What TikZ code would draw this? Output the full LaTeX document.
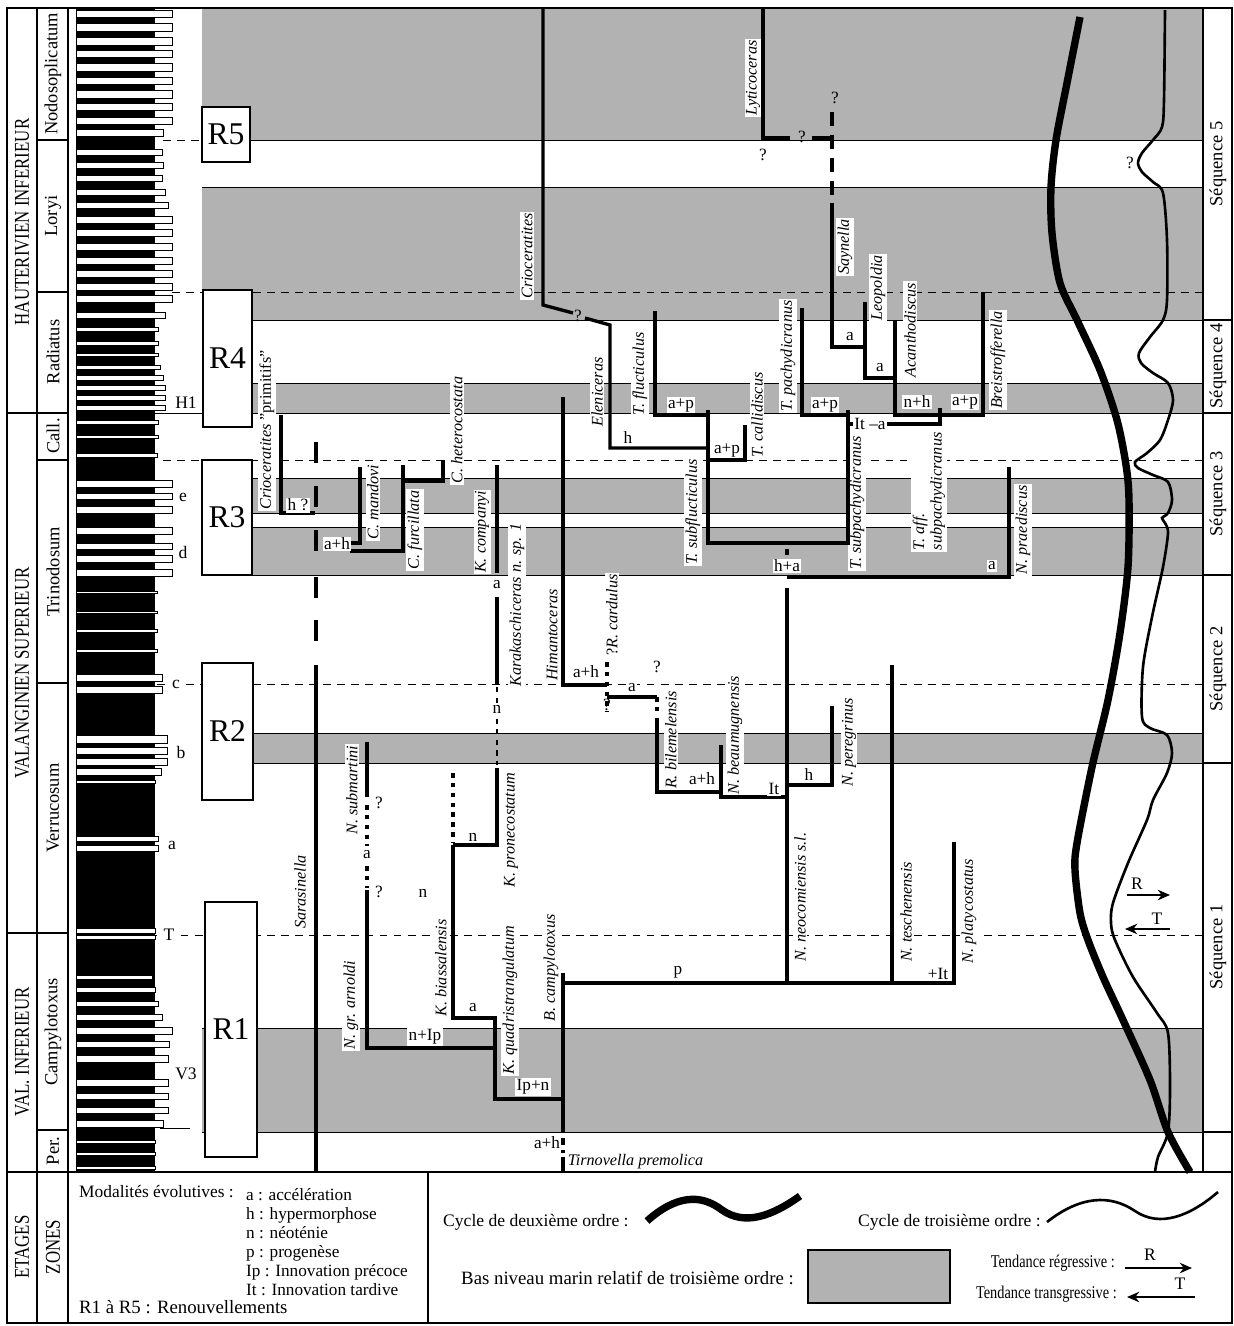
\documentclass[tikz,border=0pt]{standalone}
\usepackage{fontspec}
\setmainfont{Liberation Serif}
\usetikzlibrary{arrows.meta}

\tikzset{
  lin/.style={line width=1.9pt},
  frm/.style={line width=0.9pt},
  dsh/.style={line width=0.5pt, dash pattern=on 4.5pt off 3.5pt},
  dotlin/.style={line width=1.9pt, dash pattern=on 2.6pt off 3pt},
  sp/.style={rotate=90, fill=white, inner sep=0.8pt, font=\fontsize{9.2}{10}\selectfont\itshape},
  md/.style={fill=white, inner sep=0.8pt, font=\fontsize{9.8}{11}\selectfont},
  zn/.style={rotate=90, font=\fontsize{10.5}{12}\selectfont},
  et/.style={rotate=90, font=\fontsize{12}{13}\selectfont},
  lg/.style={anchor=west, font=\fontsize{10.7}{12}\selectfont},
  lgs/.style={anchor=west, font=\fontsize{10}{12}\selectfont},
  lgt/.style={anchor=east, font=\fontsize{10.2}{12}\selectfont},
}

\begin{document}
\begin{tikzpicture}[x=0.02cm,y=-0.02cm]
\useasboundingbox (0,0) rectangle (1234,1326);

% gray bands (bas niveau marin)
\foreach \a/\b in {8/140,187/320,383/413,478/513,527/575,733/763,1028/1132}
{
	\fill[black!30] (202,\a) rectangle (1203,\b);
	\draw[line width=0.5pt] (202,\a) -- (1203,\a);
	\draw[line width=0.5pt] (202,\b) -- (1203,\b);
}

% log column
\fill (76,8) rectangle (155,1172);
\foreach \y/\h/\r in {10/7/172,23/8/172,37/8/172,50/7/172,63/8/172,77/7/172,90/8/172,103/7/172,117/7/172,129/7/163,
	149/6/162,162/6/163,175/6/162,189/6/165,202/6/168,216/7/172,229/7/172,243/7/172,257/7/172,270/7/172,283/7/172,
	295/7/172,312/6/165,327/4/158,341/4/158,353/3/158,365/4/160,375/5/163,385/5/165,395/5/165,405/5/165,
	420/4/158,435/3/158,453/4/157,
	480/7/172,493/6/172,506/7/172,527/7/172,543/6/172,555/7/172,569/7/172,591/2/157,611/2/157,629/3/157,649/3/157,674/7/162,
	686/7/162,735/8/167,747/7/167,758/7/167,768/7/161,780/3/155,836/5/158,845/6/158,928/5/155,935/4/155,
	975/4/152,987/5/155,1001/5/158,1014/6/162,1027/7/172,1041/6/169,1055/7/168,1079/7/168,1093/6/168,1107/6/168,1120/7/163,
	1140/3/155,1152/3/155,1166/3/155}
{
	\filldraw[fill=white, line width=0.4pt] (76,\y) rectangle (\r,\y+\h);
}

% frame and columns
\draw[frm] (7,8) rectangle (1232,1323);
\draw[frm] (37,8) -- (37,1323);
\draw[frm] (68,8) -- (68,1323);
\draw[frm] (428,1172) -- (428,1323);
\draw[frm] (1203,8) -- (1203,1172);
\draw[frm] (7,1172) -- (1232,1172);
\foreach \y in {140,292,460,683,1130}
{
	\draw[frm] (37,\y) -- (68,\y);
}
\foreach \y in {413,933}
{
	\draw[frm] (7,\y) -- (68,\y);
}
\foreach \y in {320,413,575,763,1132}
{
	\draw[frm] (1203,\y) -- (1232,\y);
}

% stage and zone names
\node[et] (hau) at (22,222) {\scalebox{0.8}[1]{HAUTERIVIEN INFERIEUR}};
\node[et] (vsu) at (22,673) {\scalebox{0.8}[1]{VALANGINIEN SUPERIEUR}};
\node[et] (vin) at (22,1052) {\scalebox{0.8}[1]{VAL. INFERIEUR}};
\foreach \n/\t/\y in {z1/Nodosoplicatum/74,z2/Loryi/216,z3/Radiatus/352,z4/Call./436,z5/Trinodosum/572,z6/Verrucosum/808,z7/Campylotoxus/1032,z8/Per./1151}
{
	\node[zn] (\n) at (53,\y) {\t};
}

% marker beds of the log
\foreach \n/\t/\x/\y in {mh/H1/186/403,me/e/183/497,md/d/183/552,mb/b/181/752,ma/a/172/845,mv/V3/186/1074}
{
	\node[font=\fontsize{10}{12}\selectfont] (\n) at (\x,\y) {\t};
}
\node[font=\fontsize{10}{12}\selectfont] (mc) at (176,684) {c};
\node[font=\fontsize{10}{12}\selectfont] (mt) at (169,935) {T};

% correlation lines
\draw[dsh] (163,140) -- (202,140);
\draw[dsh] (172,292) -- (203,292);
\draw[dsh] (163,460) -- (202,460);
\draw[dsh] (157,684) -- (mc.west);
\draw[dsh] (mc.east) -- (202,684);
\draw[dsh] (155,935) -- (mt.west);
\draw[dsh] (mt.east) -- (205,935);
\draw[line width=0.5pt] (155,413) -- (203,413);
\draw[line width=0.5pt] (160,1128) -- (190,1128);
\foreach \y in {292,460,684,935}
{
	\draw[dsh] (253,\y) -- (1203,\y);
}

% renouvellements
\foreach \n/\a/\b/\c/\d in {R5/202/107/250/162,R4/203/290/252/427,R3/202/460/252/575,R2/202/663/253/800,R1/205/902/257/1157}
{
	\draw[frm, fill=white] (\a,\b) rectangle (\c,\d) node[midway, font=\fontsize{18}{20}\selectfont] (\n) {\n};
}

% sequences
\foreach \n/\y in {5/164,4/366,3/494,2/669,1/947}
{
	\node[rotate=90, font=\fontsize{10.5}{12}\selectfont] (seq\n) at (1218,\y) {Séquence \n};
}

% taxa names
\node[sp] (cri) at (527,256) {Crioceratites};
\node[sp] (lyt) at (753,78) {Lyticoceras};
\node[sp] (say) at (845,247) {Saynella};
\node[sp] (leo) at (878,288) {Leopoldia};
\node[sp] (aca) at (910,330) {Acanthodiscus};
\node[sp] (bre) at (998,360) {Breistrofferella};
\node[sp] (tpa) at (788,356) {T. pachydicranus};
\node[sp] (tca) at (757,415) {T. callidiscus};
\node[sp] (ele) at (597,392) {Eleniceras};
\node[sp] (tfl) at (640,374) {T. flucticulus};
\node[sp] (tsf) at (693,512) {T. subflucticulus};
\node[sp] (tsp) at (857,503) {T. subpachydicranus};
\node[sp, anchor=west, align=left] (taf) at (929,552) {T. aff.\\subpachydicranus};
\node[sp] (npr) at (1023,530) {N. praediscus};
\node[sp] (crp) at (267,430) {Crioceratites \upshape"primitifs"};
\node[sp] (cma) at (373,502) {C. mandovi};
\node[sp] (cfu) at (415,530) {C. furcillata};
\node[sp] (che) at (457,430) {C. heterocostata};
\node[sp] (kco) at (482,532) {K. companyi};
\node[sp] (kar) at (517,605) {Karakaschiceras n. sp. 1};
\node[sp] (him) at (552,635) {Himantoceras};
\node[sp] (rca) at (612,615) {\upshape?\itshape R. cardulus};
\node[sp] (rbi) at (671,740) {R. bilemelensis};
\node[sp] (nbe) at (735,735) {N. beaumugnensis};
\node[sp] (npe) at (849,742) {N. peregrinus};
\node[sp] (nsu) at (352,790) {N. submartini};
\node[sp] (kpr) at (511,830) {K. pronecostatum};
\node[sp] (sar) at (300,892) {Sarasinella};
\node[sp] (nar) at (351,1005) {N. gr. arnoldi};
\node[sp] (kbi) at (441,968) {K. biassalensis};
\node[sp] (kqu) at (510,1000) {K. quadristrangulatum};
\node[sp] (bca) at (551,968) {B. campylotoxus};
\node[sp] (nne) at (800,897) {N. neocomiensis s.l.};
\node[sp] (nte) at (906,912) {N. teschenensis};
\node[sp] (npl) at (969,911) {N. platycostatus};
\node[sp, rotate=-90, anchor=west] (tir) at (566,1162) {Tirnovella premolica};

% lineages, Hauterivien
\draw[lin] (543,8) -- (543,305) -- (573,313);
\draw[lin] (585,318) -- (610,325) -- (610,448) -- (708,448);
\draw[lin] (655,311) -- (655,415) -- (708,415);
\draw[lin] (708,410) -- (708,543) -- (848,543) -- (848,410);
\draw[lin] (708,460) -- (745,460) -- (745,425);
\draw[lin] (802,308) -- (802,415) -- (848,415);
\draw[lin] (848,424) -- (940,424) -- (940,408);
\draw[lin] (895,320) -- (895,415) -- (983,415) -- (983,292);
\draw[lin] (865,302) -- (865,378) -- (895,378);
\draw[lin] (832,215) -- (832,347) -- (865,347);
\draw[lin, dash pattern=on 8pt off 5pt] (832,112) -- (832,215);
\draw[lin] (763,8) -- (763,138) -- (790,138);
\draw[lin] (812,138) -- (832,138);

% lineages, Valanginien
\foreach \a in {442,486,530,577,620}
{
	\draw[lin] (316,\a) -- (316,\a+21);
}
\draw[lin] (316,665) -- (316,1172);
\draw[lin] (281,415) -- (281,513) -- (315,513);
\draw[lin] (360,467) -- (360,543) -- (350,543);
\draw[lin] (350,551) -- (403,551) -- (403,465);
\draw[lin] (403,481) -- (443,481) -- (443,460);
\draw[lin] (497,465) -- (497,573);
\draw[lin] (497,597) -- (497,684);
\draw[line width=0.6pt, dash pattern=on 3pt off 3pt] (497,687) -- (497,765);
\draw[lin] (497,768) -- (497,845) -- (453,845);
\draw[dotlin] (453,773) -- (453,842);
\draw[lin] (453,845) -- (453,1018) -- (495,1018) -- (495,1099) -- (563,1099);
\draw[lin] (367,742) -- (367,797);
\draw[dotlin] (367,805) -- (367,846);
\draw[dotlin] (367,866) -- (367,888);
\draw[lin] (367,890) -- (367,1048) -- (495,1048);
\draw[lin] (563,973) -- (563,1132);
\draw[lin] (563,983) -- (954,983) -- (954,842);
\draw[lin] (892,665) -- (892,983);
\draw[lin] (787,588) -- (787,983);
\draw[lin] (787,549) -- (787,555);
\draw[lin] (787,577) -- (1009,577) -- (1009,467);
\draw[lin] (563,397) -- (563,685) -- (607,685);
\draw[dotlin] (607,662) -- (607,712);
\draw[lin] (607,697) -- (657,697);
\draw[dotlin] (657,697) -- (657,716);
\draw[lin] (657,718) -- (657,792) -- (722,792);
\draw[lin] (721,745) -- (721,797) -- (787,797);
\draw[lin] (787,785) -- (832,785) -- (832,706);
\draw[lin] (563,1138) -- (563,1145);
\draw[lin] (563,1150) -- (563,1153);
\draw[lin] (563,1157) -- (563,1172);

% evolutionary modes
\foreach \n/\t/\x/\y in {m1/a+p/681/405,m2/h/628/438,m3/a+p/727/450,m4/a+p/825/405,m5/n+h/917/402,m6/a+p/965/402,
	m7/a/850/337,m8/a/880/368,m9/h ?/298/505,m10/a+h/337/544,m11/a/497/585,m12/n/497/709,m13/a+h/586/672,
	m14/a/632/688,m15/a+h/702/779,m16/It/774/789,m17/h/809/775,m18/h+a/787/566,m19/a/992/566,m20/n/473/837,
	m21/a/367/855,m22/n/423/893,m23/a/473/1008,m24/n+Ip/425/1037,m25/Ip+n/533/1087,m26/p/678/972,m27/+It/938/974,
	m28/a+h/547/1143,m29/It --a/870/424}
{
	\node[md] (\n) at (\x,\y) {\t};
}
\foreach \n/\x/\y in {q1/578/316,q2/802/137,q3/763/155,q4/835/98,q5/1130/163,q6/379/803,q7/379/892,q8/657/667,q9/607/705}
{
	\node[md, fill=none] (\n) at (\x,\y) {?};
}

% sea level cycles
\draw[line width=4.2pt] plot[smooth] coordinates {(1080,17) (1067,83) (1056,140) (1051,187) (1052,233) (1060,283)
	(1077,320) (1100,370) (1117,420) (1126,465) (1129,500) (1128,567) (1120,633) (1108,700) (1092,767) (1077,843)
	(1075,870) (1080,913) (1088,940) (1103,977) (1123,1020) (1150,1080) (1168,1132) (1190,1172)};
\draw[line width=1.5pt] plot[smooth] coordinates {(1165,10) (1164,100) (1162,127) (1153,140) (1142,153) (1138,163)
	(1142,172) (1153,182) (1163,193) (1167,240) (1167,300) (1163,320) (1150,337) (1139,353) (1141,363) (1153,373)
	(1168,383) (1173,400) (1168,420) (1160,440) (1147,453) (1135,462) (1138,468) (1153,475) (1168,482) (1172,500)
	(1168,513) (1162,518) (1165,523) (1168,533) (1163,567) (1152,617) (1143,667) (1142,717) (1150,728) (1167,735)
	(1172,753) (1167,773) (1153,800) (1147,820) (1128,863) (1113,903) (1111,923) (1115,940) (1133,977) (1157,1013)
	(1168,1033) (1170,1087) (1168,1132) (1158,1157) (1155,1172)};
\node[font=\fontsize{10}{12}\selectfont] (rr) at (1137,884) {R};
\node[font=\fontsize{10}{12}\selectfont] (tt) at (1157,919) {T};
\draw[line width=0.7pt, -{Stealth[length=7pt,width=6pt]}] (1127,895) -- (1170,895);
\draw[line width=0.7pt, -{Stealth[length=7pt,width=6pt]}] (1170,929) -- (1125,929);

% legend
\node[et] (etg) at (22,1247) {\scalebox{0.8}[1]{ETAGES}};
\node[et] (zns) at (53,1247) {\scalebox{0.8}[1]{ZONES}};
\node[lg, font=\fontsize{9.9}{12}\selectfont] (mod) at (73,1192) {Modalités évolutives :};
\node[anchor=north west, align=left, font=\fontsize{9.8}{10.8}\selectfont] (lst) at (240,1182) {a : accélération\\h : hypermorphose\\n : néoténie\\p : progenèse\\Ip : Innovation précoce\\It : Innovation tardive};
\node[lg] (ren) at (73,1307) {R1 à R5 : Renouvellements};
\node[lgs] (cy2) at (437,1222) {Cycle de deuxième ordre :};
\node[lg] (bas) at (455,1278) {Bas niveau marin relatif de troisième ordre :};
\node[lgs] (cy3) at (852,1222) {Cycle de troisième ordre :};
\node[lgt] (treg) at (1121,1263) {\scalebox{0.8}[1]{Tendance régressive :}};
\node[lgt] (ttra) at (1123,1294) {\scalebox{0.8}[1]{Tendance transgressive :}};
\draw[line width=4.2pt] (647,1221) .. controls (675,1196) and (700,1193) .. (722,1210) .. controls (745,1226) and (772,1216) .. (800,1196);
\draw[line width=1.5pt] (1047,1222) .. controls (1080,1196) and (1110,1194) .. (1135,1211) .. controls (1160,1228) and (1190,1216) .. (1218,1192);
\filldraw[fill=black!30, line width=0.6pt] (808,1250) rectangle (950,1303);
\node[font=\fontsize{10}{12}\selectfont] (lr) at (1150,1255) {R};
\node[font=\fontsize{10}{12}\selectfont] (lt) at (1180,1284) {T};
\draw[line width=0.7pt, -{Stealth[length=7pt,width=6pt]}] (1125,1268) -- (1192,1268);
\draw[line width=0.7pt, -{Stealth[length=7pt,width=6pt]}] (1195,1297) -- (1127,1297);

\end{tikzpicture}
\end{document}
